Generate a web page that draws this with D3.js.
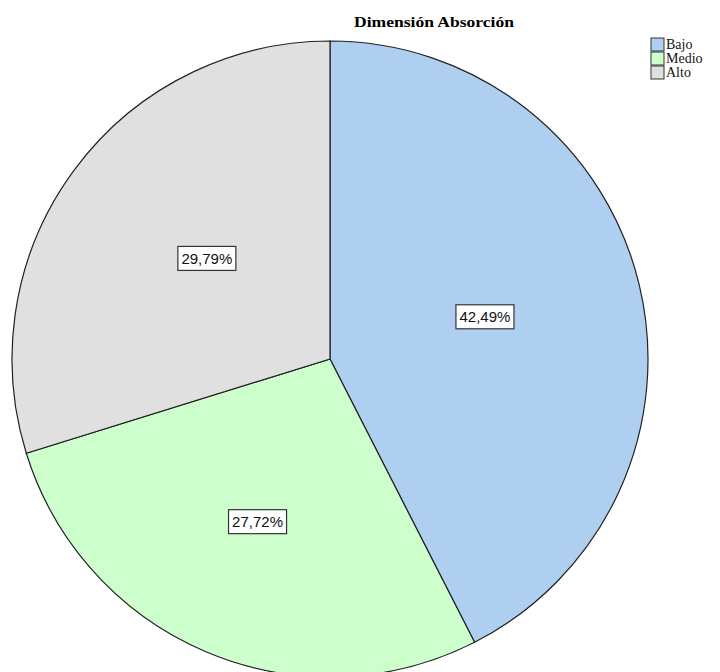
<!DOCTYPE html>
<html><head><meta charset="utf-8">
<script src="https://cdn.jsdelivr.net/npm/d3@7"></script>
<style>body{margin:0;background:#fff}</style>
</head><body>
<svg id="chart" width="720" height="672"></svg>
<script>
const title = "Dimensión Absorción";
const categories = ["Bajo", "Medio", "Alto"];
const values = [42.49, 27.72, 29.79];
const valueLabels = ["42,49%", "27,72%", "29,79%"];
const colors = ["#aecff0", "#ccffcc", "#e0e0e0"];

const svg = d3.select("#chart");
const cx = 330, cy = 359, r = 318;
// label radial placement (layout only)
const labelFrac = [0.505, 0.56, 0.5];
const labelShift = [-0.03, 0.02, 0.05];

svg.append("text").attr("x", 434).attr("y", 27).attr("text-anchor", "middle")
  .attr("font-family", "Liberation Serif, serif").attr("font-weight", "bold")
  .attr("font-size", 14).attr("textLength", 160).attr("lengthAdjust", "spacingAndGlyphs")
  .text(title);

const pie = d3.pie().sort(null).value(d => d)(values);
const arc = d3.arc().innerRadius(0).outerRadius(r);
const g = svg.append("g").attr("transform", `translate(${cx},${cy})`);
g.selectAll("path").data(pie).join("path")
  .attr("d", arc).attr("fill", (d, i) => colors[i])
  .attr("stroke", "#222").attr("stroke-width", 1.2);

const lg = g.selectAll("g.lbl").data(pie).join("g").attr("class", "lbl")
  .attr("transform", (d, i) => {
    const a = (d.startAngle + d.endAngle) / 2 + labelShift[i];
    const rr = r * labelFrac[i];
    return `translate(${rr * Math.sin(a)},${-rr * Math.cos(a)})`;
  });
lg.append("rect").attr("x", -29).attr("y", -12).attr("width", 58).attr("height", 24)
  .attr("fill", "#fff").attr("stroke", "#333").attr("stroke-width", 1.2);
lg.append("text").attr("text-anchor", "middle").attr("dy", "0.36em")
  .attr("font-family", "Liberation Sans, Arial, sans-serif").attr("font-size", 15)
  .attr("fill", "#111").text((d, i) => valueLabels[i]);

const leg = svg.append("g").attr("transform", "translate(651,38)");
categories.forEach((c, i) => {
  const row = leg.append("g").attr("transform", `translate(0,${i * 14})`);
  row.append("rect").attr("x", 0).attr("y", 0).attr("width", 13).attr("height", 13)
    .attr("fill", colors[i]).attr("stroke", "#333").attr("stroke-width", 1);
  row.append("text").attr("x", 15).attr("y", 11)
    .attr("font-family", "Liberation Serif, serif").attr("font-size", 14)
    .attr("fill", "#111").text(c);
});
</script>
</body></html>
